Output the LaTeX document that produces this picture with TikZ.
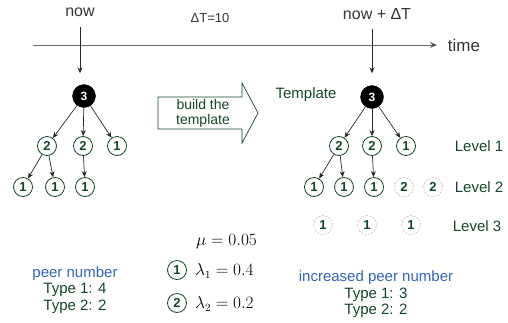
\documentclass[tikz,border=0pt]{standalone}
\usepackage{fontspec}
\setmainfont{Liberation Sans}
\usetikzlibrary{arrows.meta,calc}
\definecolor{dg}{RGB}{20,70,40}
\definecolor{bl}{RGB}{50,100,185}
\definecolor{ln}{RGB}{40,40,40}
\tikzset{
  arr/.style={draw=ln,line width=0.7pt,-{Stealth[length=6pt,width=5pt]}},
  pn/.style={circle,draw=dg,line width=0.8pt,minimum size=19pt,inner sep=0pt,text=dg,font=\fontsize{13}{13}\selectfont\bfseries},
  dn/.style={circle,draw=gray!60,dashed,dash pattern=on 2pt off 1.5pt,line width=0.5pt,minimum size=19pt,inner sep=0pt,text=dg,font=\fontsize{13}{13}\selectfont\bfseries},
  root/.style={circle,fill=black,draw=black,minimum size=23pt,inner sep=0pt,text=white,font=\fontsize{12}{12}\selectfont\bfseries},
  lbl/.style={text=dg,font=\fontsize{15}{15}\selectfont,inner sep=0pt},
  toplbl/.style={text=black!80,font=\fontsize{16}{16}\selectfont,inner sep=0pt}
}
\begin{document}
\begin{tikzpicture}[x=1pt,y=-1pt]
\useasboundingbox (0,0) rectangle (508,322);
% timeline
\coordinate (tl) at (33,45);
\coordinate (tr) at (437,45);
\draw[draw=gray!80!black,line width=0.8pt,-{Stealth[length=7pt,width=6pt,fill=black]}] (tl) -- (tr);
\node[toplbl,font=\fontsize{17}{17}\selectfont] (time) at (464,45) {time};
\node[toplbl] (now) at (80,12) {now};
\node[toplbl,font=\fontsize{13}{13}\selectfont] (dt) at (210,18) {ΔT=10};
\node[toplbl] (nowdt) at (377,14) {now + ΔT};
% left tree
\node[root] (a0) at (84,96) {3};
\coordinate (nowa) at (80,27);
\draw[arr,shorten >=11pt] (nowa) -- (nowa |- a0.north);
\node[pn] (a1) at (47,146) {2};
\node[pn] (a2) at (83,146) {2};
\node[pn] (a3) at (117,146) {1};
\node[pn] (a4) at (23,187) {1};
\node[pn] (a5) at (55,187) {1};
\node[pn] (a6) at (85,187) {1};
\draw[arr] (a0) -- (a1);
\draw[arr] (a0) -- (a2);
\draw[arr] (a0) -- (a3);
\draw[arr] (a1) -- (a4);
\draw[arr] (a1) -- (a5);
\draw[arr] (a2) -- (a6);
% right tree
\node[root] (b0) at (372,97) {3};
\coordinate (nda) at (372,29);
\draw[arr,shorten >=12pt] (nda) -- (b0.north);
\node[pn] (b1) at (339,146) {2};
\node[pn] (b2) at (372,146) {2};
\node[pn] (b3) at (406,146) {1};
\node[pn] (b4) at (314,187) {1};
\node[pn] (b5) at (344,187) {1};
\node[pn] (b6) at (374,187) {1};
\node[dn] (b7) at (404,187) {2};
\node[dn] (b8) at (433,187) {2};
\node[dn] (c1) at (323,225) {1};
\node[dn] (c2) at (367,225) {1};
\node[dn] (c3) at (411,225) {1};
\draw[arr] (b0) -- (b1);
\draw[arr] (b0) -- (b2);
\draw[arr] (b0) -- (b3);
\draw[arr] (b1) -- (b4);
\draw[arr] (b1) -- (b5);
\draw[arr] (b2) -- (b6);
\node[lbl] (tmpl) at (306,95) {Template};
\node[lbl] (l1) at (479,146) {Level 1};
\node[lbl] (l2) at (479,187) {Level 2};
\node[lbl] (l3) at (477,226) {Level 3};
% big arrow
\draw[draw=dg,line width=0.7pt] (158,97) -- (242,97) -- (242,83) -- (258,113) -- (242,143) -- (242,129) -- (158,129) -- cycle;
\node[lbl,align=center,font=\fontsize{14}{15}\selectfont] (build) at (203,113) {build the\\template};
% bottom left
\node[text=bl,font=\fontsize{15}{15}\selectfont,inner sep=0pt] (pn1) at (75,274) {peer number};
\node[lbl] (t1) at (75,290) {Type 1: 4};
\node[lbl] (t2) at (75,307) {Type 2: 2};
% params
\node[font=\fontsize{16}{16}\selectfont,anchor=west,inner sep=0pt] (mu) at (196,242) {$\mu = 0.05$};
\node[pn,minimum size=19pt] (k1) at (177,270) {1};
\node[font=\fontsize{16}{16}\selectfont,anchor=west,inner sep=0pt] (lam1) at (195,271) {$\lambda_1 = 0.4$};
\node[pn,minimum size=19pt] (k2) at (177,303) {2};
\node[font=\fontsize{16}{16}\selectfont,anchor=west,inner sep=0pt] (lam2) at (195,304) {$\lambda_2 = 0.2$};
% bottom right
\node[text=bl,font=\fontsize{15}{15}\selectfont,inner sep=0pt] (ipn) at (376,278) {increased peer number};
\node[lbl] (r1) at (376,295) {Type 1: 3};
\node[lbl] (r2) at (376,311) {Type 2: 2};
\end{tikzpicture}
\end{document}
